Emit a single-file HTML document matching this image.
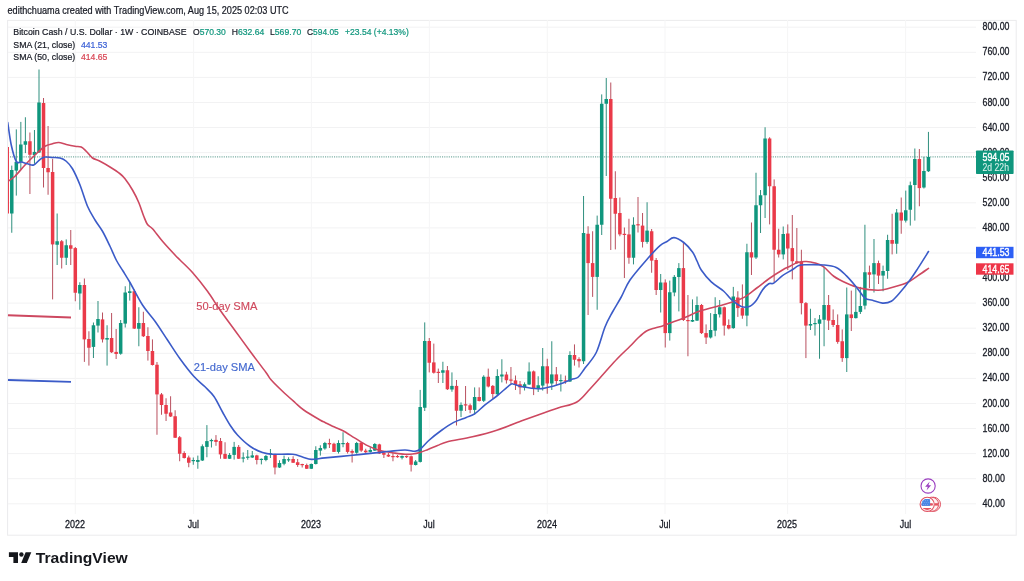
<!DOCTYPE html>
<html><head><meta charset="utf-8"><title>BCHUSD chart</title>
<style>
html,body{margin:0;padding:0;background:#fff;}
body{width:1024px;height:581px;overflow:hidden;position:relative;font-family:"Liberation Sans",sans-serif;}
svg{position:absolute;left:0;top:0;display:block}
text{font-family:"Liberation Sans",sans-serif;}
</style></head><body>
<svg width="1024" height="581" viewBox="0 0 1024 581">
<defs><clipPath id="pane"><rect x="7.9" y="20" width="968" height="495"/></clipPath></defs>
<rect x="0" y="0" width="1024" height="581" fill="#ffffff"/>

<rect x="7.6" y="20.4" width="1008.6" height="514.8" fill="none" stroke="#ebebed" stroke-width="1"/>
<g stroke="#f2f2f3" stroke-width="1">
<line x1="8" y1="27.2" x2="976" y2="27.2"/>
<line x1="8" y1="52.3" x2="976" y2="52.3"/>
<line x1="8" y1="77.4" x2="976" y2="77.4"/>
<line x1="8" y1="102.5" x2="976" y2="102.5"/>
<line x1="8" y1="127.5" x2="976" y2="127.5"/>
<line x1="8" y1="152.6" x2="976" y2="152.6"/>
<line x1="8" y1="177.7" x2="976" y2="177.7"/>
<line x1="8" y1="202.8" x2="976" y2="202.8"/>
<line x1="8" y1="227.9" x2="976" y2="227.9"/>
<line x1="8" y1="253.0" x2="976" y2="253.0"/>
<line x1="8" y1="278.0" x2="976" y2="278.0"/>
<line x1="8" y1="303.1" x2="976" y2="303.1"/>
<line x1="8" y1="328.2" x2="976" y2="328.2"/>
<line x1="8" y1="353.3" x2="976" y2="353.3"/>
<line x1="8" y1="378.4" x2="976" y2="378.4"/>
<line x1="8" y1="403.5" x2="976" y2="403.5"/>
<line x1="8" y1="428.5" x2="976" y2="428.5"/>
<line x1="8" y1="453.6" x2="976" y2="453.6"/>
<line x1="8" y1="478.7" x2="976" y2="478.7"/>
<line x1="8" y1="503.8" x2="976" y2="503.8"/>
</g><g stroke="#f5f5f6" stroke-width="1">
<line x1="75.3" y1="20" x2="75.3" y2="514"/>
<line x1="193.6" y1="20" x2="193.6" y2="514"/>
<line x1="311.4" y1="20" x2="311.4" y2="514"/>
<line x1="429.4" y1="20" x2="429.4" y2="514"/>
<line x1="547.3" y1="20" x2="547.3" y2="514"/>
<line x1="665.0" y1="20" x2="665.0" y2="514"/>
<line x1="787.6" y1="20" x2="787.6" y2="514"/>
<line x1="905.6" y1="20" x2="905.6" y2="514"/>
</g>
<line x1="10" y1="156.9" x2="976" y2="156.9" stroke="#5f9e92" stroke-opacity="0.85" stroke-width="1.2" stroke-dasharray="1.1 1.15"/>
<line x1="8" y1="315.3" x2="71" y2="317.5" stroke="#cd4860" stroke-width="1.9"/>
<line x1="8" y1="380" x2="71" y2="381.9" stroke="#3b5bc8" stroke-width="1.9"/>
<g clip-path="url(#pane)">
<line x1="7.23" y1="146.90" x2="7.23" y2="213.50" stroke="#b9505f" stroke-width="1"/>
<rect x="5.48" y="147.00" width="3.50" height="66.50" fill="#ea3a49"/>
<line x1="11.77" y1="165.60" x2="11.77" y2="232.75" stroke="#2f8f7e" stroke-width="1"/>
<rect x="10.02" y="170.00" width="3.50" height="43.50" fill="#0f967d"/>
<line x1="16.31" y1="129.40" x2="16.31" y2="195.60" stroke="#2f8f7e" stroke-width="1"/>
<rect x="14.56" y="161.90" width="3.50" height="8.70" fill="#0f967d"/>
<line x1="20.84" y1="121.90" x2="20.84" y2="169.00" stroke="#2f8f7e" stroke-width="1"/>
<rect x="19.09" y="144.50" width="3.50" height="17.40" fill="#0f967d"/>
<line x1="25.38" y1="117.25" x2="25.38" y2="153.10" stroke="#2f8f7e" stroke-width="1"/>
<rect x="23.63" y="141.25" width="3.50" height="3.50" fill="#0f967d"/>
<line x1="29.92" y1="132.50" x2="29.92" y2="194.00" stroke="#b9505f" stroke-width="1"/>
<rect x="28.17" y="141.25" width="3.50" height="13.50" fill="#ea3a49"/>
<line x1="34.46" y1="130.00" x2="34.46" y2="163.75" stroke="#2f8f7e" stroke-width="1"/>
<rect x="32.71" y="151.90" width="3.50" height="3.10" fill="#0f967d"/>
<line x1="39.00" y1="69.50" x2="39.00" y2="153.00" stroke="#2f8f7e" stroke-width="1"/>
<rect x="37.25" y="102.50" width="3.50" height="50.00" fill="#0f967d"/>
<line x1="43.53" y1="98.00" x2="43.53" y2="187.50" stroke="#b9505f" stroke-width="1"/>
<rect x="41.78" y="103.00" width="3.50" height="65.00" fill="#ea3a49"/>
<line x1="48.07" y1="126.00" x2="48.07" y2="194.75" stroke="#b9505f" stroke-width="1"/>
<rect x="46.32" y="168.00" width="3.50" height="4.25" fill="#ea3a49"/>
<line x1="52.61" y1="158.75" x2="52.61" y2="299.40" stroke="#b9505f" stroke-width="1"/>
<rect x="50.86" y="172.00" width="3.50" height="72.40" fill="#ea3a49"/>
<line x1="57.15" y1="213.50" x2="57.15" y2="265.00" stroke="#2f8f7e" stroke-width="1"/>
<rect x="55.40" y="241.25" width="3.50" height="3.50" fill="#0f967d"/>
<line x1="61.69" y1="240.00" x2="61.69" y2="268.50" stroke="#b9505f" stroke-width="1"/>
<rect x="59.94" y="241.25" width="3.50" height="16.50" fill="#ea3a49"/>
<line x1="66.22" y1="239.40" x2="66.22" y2="265.00" stroke="#2f8f7e" stroke-width="1"/>
<rect x="64.47" y="245.25" width="3.50" height="12.50" fill="#0f967d"/>
<line x1="70.76" y1="230.00" x2="70.76" y2="265.00" stroke="#b9505f" stroke-width="1"/>
<rect x="69.01" y="245.25" width="3.50" height="3.50" fill="#ea3a49"/>
<line x1="75.30" y1="247.00" x2="75.30" y2="301.25" stroke="#b9505f" stroke-width="1"/>
<rect x="73.55" y="248.10" width="3.50" height="44.65" fill="#ea3a49"/>
<line x1="79.84" y1="282.25" x2="79.84" y2="309.75" stroke="#2f8f7e" stroke-width="1"/>
<rect x="78.09" y="285.00" width="3.50" height="8.50" fill="#0f967d"/>
<line x1="84.38" y1="278.50" x2="84.38" y2="361.90" stroke="#b9505f" stroke-width="1"/>
<rect x="82.63" y="285.00" width="3.50" height="54.40" fill="#ea3a49"/>
<line x1="88.91" y1="331.25" x2="88.91" y2="365.60" stroke="#b9505f" stroke-width="1"/>
<rect x="87.16" y="339.00" width="3.50" height="8.75" fill="#ea3a49"/>
<line x1="93.45" y1="322.50" x2="93.45" y2="358.00" stroke="#2f8f7e" stroke-width="1"/>
<rect x="91.70" y="325.25" width="3.50" height="21.65" fill="#0f967d"/>
<line x1="97.99" y1="301.00" x2="97.99" y2="332.50" stroke="#2f8f7e" stroke-width="1"/>
<rect x="96.24" y="319.00" width="3.50" height="6.60" fill="#0f967d"/>
<line x1="102.53" y1="312.50" x2="102.53" y2="342.50" stroke="#b9505f" stroke-width="1"/>
<rect x="100.78" y="319.40" width="3.50" height="20.00" fill="#ea3a49"/>
<line x1="107.07" y1="325.25" x2="107.07" y2="365.60" stroke="#2f8f7e" stroke-width="1"/>
<rect x="105.32" y="338.00" width="3.50" height="1.60" fill="#0f967d"/>
<line x1="111.60" y1="313.00" x2="111.60" y2="353.00" stroke="#b9505f" stroke-width="1"/>
<rect x="109.85" y="338.00" width="3.50" height="14.25" fill="#ea3a49"/>
<line x1="116.14" y1="329.00" x2="116.14" y2="359.00" stroke="#b9505f" stroke-width="1"/>
<rect x="114.39" y="351.90" width="3.50" height="2.10" fill="#ea3a49"/>
<line x1="120.68" y1="320.00" x2="120.68" y2="354.75" stroke="#2f8f7e" stroke-width="1"/>
<rect x="118.93" y="323.00" width="3.50" height="30.75" fill="#0f967d"/>
<line x1="125.22" y1="286.25" x2="125.22" y2="327.50" stroke="#2f8f7e" stroke-width="1"/>
<rect x="123.47" y="292.50" width="3.50" height="31.10" fill="#0f967d"/>
<line x1="129.76" y1="282.00" x2="129.76" y2="300.60" stroke="#2f8f7e" stroke-width="1"/>
<rect x="128.01" y="291.25" width="3.50" height="1.75" fill="#0f967d"/>
<line x1="134.29" y1="289.40" x2="134.29" y2="329.00" stroke="#b9505f" stroke-width="1"/>
<rect x="132.54" y="291.25" width="3.50" height="37.35" fill="#ea3a49"/>
<line x1="138.83" y1="307.25" x2="138.83" y2="346.25" stroke="#2f8f7e" stroke-width="1"/>
<rect x="137.08" y="323.00" width="3.50" height="5.75" fill="#0f967d"/>
<line x1="143.37" y1="311.75" x2="143.37" y2="337.00" stroke="#b9505f" stroke-width="1"/>
<rect x="141.62" y="323.00" width="3.50" height="13.25" fill="#ea3a49"/>
<line x1="147.91" y1="327.25" x2="147.91" y2="360.60" stroke="#b9505f" stroke-width="1"/>
<rect x="146.16" y="336.00" width="3.50" height="15.00" fill="#ea3a49"/>
<line x1="152.45" y1="339.40" x2="152.45" y2="365.50" stroke="#b9505f" stroke-width="1"/>
<rect x="150.70" y="351.00" width="3.50" height="14.00" fill="#ea3a49"/>
<line x1="156.98" y1="362.00" x2="156.98" y2="434.75" stroke="#b9505f" stroke-width="1"/>
<rect x="155.23" y="364.75" width="3.50" height="29.65" fill="#ea3a49"/>
<line x1="161.52" y1="393.00" x2="161.52" y2="414.75" stroke="#b9505f" stroke-width="1"/>
<rect x="159.77" y="394.40" width="3.50" height="10.60" fill="#ea3a49"/>
<line x1="166.06" y1="398.25" x2="166.06" y2="421.00" stroke="#b9505f" stroke-width="1"/>
<rect x="164.31" y="405.00" width="3.50" height="8.75" fill="#ea3a49"/>
<line x1="170.60" y1="396.25" x2="170.60" y2="417.00" stroke="#b9505f" stroke-width="1"/>
<rect x="168.85" y="412.50" width="3.50" height="4.00" fill="#ea3a49"/>
<line x1="175.14" y1="410.25" x2="175.14" y2="438.00" stroke="#b9505f" stroke-width="1"/>
<rect x="173.39" y="416.25" width="3.50" height="21.50" fill="#ea3a49"/>
<line x1="179.67" y1="436.00" x2="179.67" y2="461.25" stroke="#b9505f" stroke-width="1"/>
<rect x="177.92" y="437.25" width="3.50" height="16.50" fill="#ea3a49"/>
<line x1="184.21" y1="451.25" x2="184.21" y2="458.50" stroke="#b9505f" stroke-width="1"/>
<rect x="182.46" y="453.00" width="3.50" height="5.00" fill="#ea3a49"/>
<line x1="188.75" y1="455.60" x2="188.75" y2="467.25" stroke="#b9505f" stroke-width="1"/>
<rect x="187.00" y="457.50" width="3.50" height="5.25" fill="#ea3a49"/>
<line x1="193.29" y1="457.50" x2="193.29" y2="464.75" stroke="#2f8f7e" stroke-width="1"/>
<rect x="191.54" y="460.00" width="3.50" height="1.20" fill="#0f967d"/>
<line x1="197.83" y1="455.60" x2="197.83" y2="468.75" stroke="#2f8f7e" stroke-width="1"/>
<rect x="196.08" y="460.00" width="3.50" height="1.90" fill="#0f967d"/>
<line x1="202.36" y1="444.40" x2="202.36" y2="461.00" stroke="#2f8f7e" stroke-width="1"/>
<rect x="200.61" y="446.25" width="3.50" height="14.25" fill="#0f967d"/>
<line x1="206.90" y1="425.10" x2="206.90" y2="457.25" stroke="#2f8f7e" stroke-width="1"/>
<rect x="205.15" y="441.10" width="3.50" height="5.80" fill="#0f967d"/>
<line x1="211.44" y1="438.75" x2="211.44" y2="447.50" stroke="#2f8f7e" stroke-width="1"/>
<rect x="209.69" y="440.00" width="3.50" height="1.20" fill="#0f967d"/>
<line x1="215.98" y1="435.10" x2="215.98" y2="445.80" stroke="#b9505f" stroke-width="1"/>
<rect x="214.23" y="439.90" width="3.50" height="2.00" fill="#ea3a49"/>
<line x1="220.52" y1="438.00" x2="220.52" y2="458.75" stroke="#b9505f" stroke-width="1"/>
<rect x="218.77" y="441.00" width="3.50" height="13.40" fill="#ea3a49"/>
<line x1="225.05" y1="442.25" x2="225.05" y2="459.00" stroke="#b9505f" stroke-width="1"/>
<rect x="223.30" y="453.90" width="3.50" height="4.85" fill="#ea3a49"/>
<line x1="229.59" y1="453.00" x2="229.59" y2="459.00" stroke="#2f8f7e" stroke-width="1"/>
<rect x="227.84" y="454.90" width="3.50" height="3.85" fill="#0f967d"/>
<line x1="234.13" y1="441.90" x2="234.13" y2="459.60" stroke="#2f8f7e" stroke-width="1"/>
<rect x="232.38" y="446.90" width="3.50" height="8.00" fill="#0f967d"/>
<line x1="238.67" y1="445.00" x2="238.67" y2="459.00" stroke="#b9505f" stroke-width="1"/>
<rect x="236.92" y="446.90" width="3.50" height="11.85" fill="#ea3a49"/>
<line x1="243.21" y1="452.40" x2="243.21" y2="462.40" stroke="#2f8f7e" stroke-width="1"/>
<rect x="241.46" y="457.40" width="3.50" height="1.20" fill="#0f967d"/>
<line x1="247.74" y1="450.00" x2="247.74" y2="459.75" stroke="#2f8f7e" stroke-width="1"/>
<rect x="245.99" y="456.60" width="3.50" height="1.20" fill="#0f967d"/>
<line x1="252.28" y1="451.00" x2="252.28" y2="458.00" stroke="#2f8f7e" stroke-width="1"/>
<rect x="250.53" y="455.40" width="3.50" height="2.10" fill="#0f967d"/>
<line x1="256.82" y1="454.75" x2="256.82" y2="464.40" stroke="#b9505f" stroke-width="1"/>
<rect x="255.07" y="455.40" width="3.50" height="4.60" fill="#ea3a49"/>
<line x1="261.36" y1="458.50" x2="261.36" y2="464.40" stroke="#2f8f7e" stroke-width="1"/>
<rect x="259.61" y="458.80" width="3.50" height="1.20" fill="#0f967d"/>
<line x1="265.90" y1="455.00" x2="265.90" y2="461.25" stroke="#2f8f7e" stroke-width="1"/>
<rect x="264.15" y="456.00" width="3.50" height="4.00" fill="#0f967d"/>
<line x1="270.43" y1="449.00" x2="270.43" y2="458.00" stroke="#2f8f7e" stroke-width="1"/>
<rect x="268.68" y="453.20" width="3.50" height="1.20" fill="#0f967d"/>
<line x1="274.97" y1="453.75" x2="274.97" y2="474.40" stroke="#b9505f" stroke-width="1"/>
<rect x="273.22" y="455.00" width="3.50" height="12.50" fill="#ea3a49"/>
<line x1="279.51" y1="460.25" x2="279.51" y2="468.00" stroke="#2f8f7e" stroke-width="1"/>
<rect x="277.76" y="463.00" width="3.50" height="4.50" fill="#0f967d"/>
<line x1="284.05" y1="455.60" x2="284.05" y2="465.25" stroke="#2f8f7e" stroke-width="1"/>
<rect x="282.30" y="459.00" width="3.50" height="4.75" fill="#0f967d"/>
<line x1="288.59" y1="457.25" x2="288.59" y2="461.90" stroke="#2f8f7e" stroke-width="1"/>
<rect x="286.84" y="459.20" width="3.50" height="1.20" fill="#0f967d"/>
<line x1="293.12" y1="456.25" x2="293.12" y2="463.00" stroke="#b9505f" stroke-width="1"/>
<rect x="291.37" y="459.00" width="3.50" height="3.75" fill="#ea3a49"/>
<line x1="297.66" y1="459.00" x2="297.66" y2="466.90" stroke="#b9505f" stroke-width="1"/>
<rect x="295.91" y="462.25" width="3.50" height="2.75" fill="#ea3a49"/>
<line x1="302.20" y1="463.75" x2="302.20" y2="467.50" stroke="#b9505f" stroke-width="1"/>
<rect x="300.45" y="464.00" width="3.50" height="1.20" fill="#ea3a49"/>
<line x1="306.74" y1="463.60" x2="306.74" y2="469.00" stroke="#b9505f" stroke-width="1"/>
<rect x="304.99" y="465.00" width="3.50" height="3.75" fill="#ea3a49"/>
<line x1="311.28" y1="463.50" x2="311.28" y2="469.00" stroke="#2f8f7e" stroke-width="1"/>
<rect x="309.53" y="464.00" width="3.50" height="4.75" fill="#0f967d"/>
<line x1="315.81" y1="446.25" x2="315.81" y2="464.50" stroke="#2f8f7e" stroke-width="1"/>
<rect x="314.06" y="450.00" width="3.50" height="14.00" fill="#0f967d"/>
<line x1="320.35" y1="445.25" x2="320.35" y2="455.60" stroke="#2f8f7e" stroke-width="1"/>
<rect x="318.60" y="448.00" width="3.50" height="2.60" fill="#0f967d"/>
<line x1="324.89" y1="441.90" x2="324.89" y2="449.75" stroke="#2f8f7e" stroke-width="1"/>
<rect x="323.14" y="443.00" width="3.50" height="5.50" fill="#0f967d"/>
<line x1="329.43" y1="438.75" x2="329.43" y2="448.00" stroke="#b9505f" stroke-width="1"/>
<rect x="327.68" y="443.00" width="3.50" height="1.40" fill="#ea3a49"/>
<line x1="333.97" y1="442.75" x2="333.97" y2="452.00" stroke="#b9505f" stroke-width="1"/>
<rect x="332.22" y="443.75" width="3.50" height="8.15" fill="#ea3a49"/>
<line x1="338.50" y1="440.25" x2="338.50" y2="453.50" stroke="#2f8f7e" stroke-width="1"/>
<rect x="336.75" y="443.00" width="3.50" height="8.90" fill="#0f967d"/>
<line x1="343.04" y1="432.25" x2="343.04" y2="447.25" stroke="#2f8f7e" stroke-width="1"/>
<rect x="341.29" y="443.00" width="3.50" height="1.20" fill="#0f967d"/>
<line x1="347.58" y1="441.90" x2="347.58" y2="453.50" stroke="#b9505f" stroke-width="1"/>
<rect x="345.83" y="443.00" width="3.50" height="8.90" fill="#ea3a49"/>
<line x1="352.12" y1="449.40" x2="352.12" y2="462.50" stroke="#b9505f" stroke-width="1"/>
<rect x="350.37" y="451.00" width="3.50" height="1.75" fill="#ea3a49"/>
<line x1="356.66" y1="441.90" x2="356.66" y2="453.75" stroke="#2f8f7e" stroke-width="1"/>
<rect x="354.91" y="443.00" width="3.50" height="9.75" fill="#0f967d"/>
<line x1="361.19" y1="441.90" x2="361.19" y2="451.90" stroke="#b9505f" stroke-width="1"/>
<rect x="359.44" y="442.75" width="3.50" height="7.85" fill="#ea3a49"/>
<line x1="365.73" y1="448.75" x2="365.73" y2="454.00" stroke="#b9505f" stroke-width="1"/>
<rect x="363.98" y="450.60" width="3.50" height="1.65" fill="#ea3a49"/>
<line x1="370.27" y1="447.25" x2="370.27" y2="452.50" stroke="#2f8f7e" stroke-width="1"/>
<rect x="368.52" y="450.00" width="3.50" height="1.90" fill="#0f967d"/>
<line x1="374.81" y1="443.10" x2="374.81" y2="451.00" stroke="#2f8f7e" stroke-width="1"/>
<rect x="373.06" y="444.00" width="3.50" height="6.60" fill="#0f967d"/>
<line x1="379.35" y1="443.75" x2="379.35" y2="454.00" stroke="#b9505f" stroke-width="1"/>
<rect x="377.60" y="444.40" width="3.50" height="9.10" fill="#ea3a49"/>
<line x1="383.88" y1="452.00" x2="383.88" y2="458.00" stroke="#b9505f" stroke-width="1"/>
<rect x="382.13" y="452.75" width="3.50" height="2.00" fill="#ea3a49"/>
<line x1="388.42" y1="453.00" x2="388.42" y2="457.00" stroke="#b9505f" stroke-width="1"/>
<rect x="386.67" y="454.75" width="3.50" height="1.75" fill="#ea3a49"/>
<line x1="392.96" y1="452.50" x2="392.96" y2="461.25" stroke="#b9505f" stroke-width="1"/>
<rect x="391.21" y="456.00" width="3.50" height="1.20" fill="#ea3a49"/>
<line x1="397.50" y1="455.00" x2="397.50" y2="457.75" stroke="#b9505f" stroke-width="1"/>
<rect x="395.75" y="456.00" width="3.50" height="1.20" fill="#ea3a49"/>
<line x1="402.04" y1="455.50" x2="402.04" y2="459.40" stroke="#2f8f7e" stroke-width="1"/>
<rect x="400.29" y="456.00" width="3.50" height="1.75" fill="#0f967d"/>
<line x1="406.57" y1="455.60" x2="406.57" y2="458.00" stroke="#b9505f" stroke-width="1"/>
<rect x="404.82" y="456.00" width="3.50" height="1.20" fill="#ea3a49"/>
<line x1="411.11" y1="455.50" x2="411.11" y2="471.50" stroke="#b9505f" stroke-width="1"/>
<rect x="409.36" y="456.25" width="3.50" height="8.50" fill="#ea3a49"/>
<line x1="415.65" y1="460.00" x2="415.65" y2="465.50" stroke="#2f8f7e" stroke-width="1"/>
<rect x="413.90" y="461.50" width="3.50" height="3.50" fill="#0f967d"/>
<line x1="420.19" y1="389.90" x2="420.19" y2="462.50" stroke="#2f8f7e" stroke-width="1"/>
<rect x="418.44" y="407.00" width="3.50" height="54.90" fill="#0f967d"/>
<line x1="424.73" y1="322.40" x2="424.73" y2="411.00" stroke="#2f8f7e" stroke-width="1"/>
<rect x="422.98" y="341.00" width="3.50" height="66.75" fill="#0f967d"/>
<line x1="429.26" y1="338.00" x2="429.26" y2="372.40" stroke="#b9505f" stroke-width="1"/>
<rect x="427.51" y="341.00" width="3.50" height="21.75" fill="#ea3a49"/>
<line x1="433.80" y1="343.60" x2="433.80" y2="373.60" stroke="#b9505f" stroke-width="1"/>
<rect x="432.05" y="362.40" width="3.50" height="10.35" fill="#ea3a49"/>
<line x1="438.34" y1="368.60" x2="438.34" y2="383.00" stroke="#b9505f" stroke-width="1"/>
<rect x="436.59" y="371.80" width="3.50" height="1.20" fill="#ea3a49"/>
<line x1="442.88" y1="361.75" x2="442.88" y2="383.00" stroke="#2f8f7e" stroke-width="1"/>
<rect x="441.13" y="370.25" width="3.50" height="2.50" fill="#0f967d"/>
<line x1="447.42" y1="366.00" x2="447.42" y2="390.00" stroke="#b9505f" stroke-width="1"/>
<rect x="445.67" y="370.25" width="3.50" height="19.00" fill="#ea3a49"/>
<line x1="451.95" y1="372.40" x2="451.95" y2="391.75" stroke="#2f8f7e" stroke-width="1"/>
<rect x="450.20" y="385.90" width="3.50" height="3.60" fill="#0f967d"/>
<line x1="456.49" y1="380.00" x2="456.49" y2="425.50" stroke="#b9505f" stroke-width="1"/>
<rect x="454.74" y="385.90" width="3.50" height="24.85" fill="#ea3a49"/>
<line x1="461.03" y1="402.40" x2="461.03" y2="417.00" stroke="#2f8f7e" stroke-width="1"/>
<rect x="459.28" y="404.90" width="3.50" height="5.85" fill="#0f967d"/>
<line x1="465.57" y1="386.00" x2="465.57" y2="411.00" stroke="#b9505f" stroke-width="1"/>
<rect x="463.82" y="404.30" width="3.50" height="1.20" fill="#ea3a49"/>
<line x1="470.11" y1="403.60" x2="470.11" y2="413.25" stroke="#b9505f" stroke-width="1"/>
<rect x="468.36" y="405.25" width="3.50" height="4.65" fill="#ea3a49"/>
<line x1="474.64" y1="387.40" x2="474.64" y2="414.50" stroke="#2f8f7e" stroke-width="1"/>
<rect x="472.89" y="397.00" width="3.50" height="12.90" fill="#0f967d"/>
<line x1="479.18" y1="387.40" x2="479.18" y2="401.50" stroke="#b9505f" stroke-width="1"/>
<rect x="477.43" y="397.00" width="3.50" height="4.00" fill="#ea3a49"/>
<line x1="483.72" y1="375.25" x2="483.72" y2="402.00" stroke="#2f8f7e" stroke-width="1"/>
<rect x="481.97" y="376.75" width="3.50" height="24.00" fill="#0f967d"/>
<line x1="488.26" y1="368.60" x2="488.26" y2="387.40" stroke="#b9505f" stroke-width="1"/>
<rect x="486.51" y="376.75" width="3.50" height="9.75" fill="#ea3a49"/>
<line x1="492.80" y1="385.00" x2="492.80" y2="398.60" stroke="#b9505f" stroke-width="1"/>
<rect x="491.05" y="385.90" width="3.50" height="8.10" fill="#ea3a49"/>
<line x1="497.33" y1="369.25" x2="497.33" y2="395.00" stroke="#2f8f7e" stroke-width="1"/>
<rect x="495.58" y="376.00" width="3.50" height="18.25" fill="#0f967d"/>
<line x1="501.87" y1="359.25" x2="501.87" y2="382.40" stroke="#2f8f7e" stroke-width="1"/>
<rect x="500.12" y="374.50" width="3.50" height="2.00" fill="#0f967d"/>
<line x1="506.41" y1="371.75" x2="506.41" y2="383.60" stroke="#b9505f" stroke-width="1"/>
<rect x="504.66" y="374.50" width="3.50" height="5.75" fill="#ea3a49"/>
<line x1="510.95" y1="367.00" x2="510.95" y2="384.25" stroke="#b9505f" stroke-width="1"/>
<rect x="509.20" y="379.50" width="3.50" height="1.20" fill="#ea3a49"/>
<line x1="515.49" y1="375.50" x2="515.49" y2="390.00" stroke="#b9505f" stroke-width="1"/>
<rect x="513.74" y="380.40" width="3.50" height="4.60" fill="#ea3a49"/>
<line x1="520.02" y1="381.00" x2="520.02" y2="394.25" stroke="#b9505f" stroke-width="1"/>
<rect x="518.27" y="384.25" width="3.50" height="3.15" fill="#ea3a49"/>
<line x1="524.56" y1="382.40" x2="524.56" y2="390.50" stroke="#2f8f7e" stroke-width="1"/>
<rect x="522.81" y="384.25" width="3.50" height="3.15" fill="#0f967d"/>
<line x1="529.10" y1="362.40" x2="529.10" y2="385.00" stroke="#2f8f7e" stroke-width="1"/>
<rect x="527.35" y="371.50" width="3.50" height="13.00" fill="#0f967d"/>
<line x1="533.64" y1="370.50" x2="533.64" y2="395.10" stroke="#b9505f" stroke-width="1"/>
<rect x="531.89" y="371.40" width="3.50" height="16.60" fill="#ea3a49"/>
<line x1="538.18" y1="376.25" x2="538.18" y2="392.00" stroke="#2f8f7e" stroke-width="1"/>
<rect x="536.43" y="385.25" width="3.50" height="3.45" fill="#0f967d"/>
<line x1="542.71" y1="348.00" x2="542.71" y2="390.60" stroke="#2f8f7e" stroke-width="1"/>
<rect x="540.96" y="366.25" width="3.50" height="19.35" fill="#0f967d"/>
<line x1="547.25" y1="358.75" x2="547.25" y2="393.75" stroke="#b9505f" stroke-width="1"/>
<rect x="545.50" y="366.25" width="3.50" height="17.25" fill="#ea3a49"/>
<line x1="551.79" y1="341.25" x2="551.79" y2="390.00" stroke="#2f8f7e" stroke-width="1"/>
<rect x="550.04" y="374.40" width="3.50" height="9.10" fill="#0f967d"/>
<line x1="556.33" y1="367.00" x2="556.33" y2="385.60" stroke="#b9505f" stroke-width="1"/>
<rect x="554.58" y="374.40" width="3.50" height="6.60" fill="#ea3a49"/>
<line x1="560.87" y1="374.40" x2="560.87" y2="391.50" stroke="#2f8f7e" stroke-width="1"/>
<rect x="559.12" y="380.00" width="3.50" height="1.20" fill="#0f967d"/>
<line x1="565.40" y1="375.60" x2="565.40" y2="383.75" stroke="#b9505f" stroke-width="1"/>
<rect x="563.65" y="380.40" width="3.50" height="1.20" fill="#ea3a49"/>
<line x1="569.94" y1="351.25" x2="569.94" y2="382.00" stroke="#2f8f7e" stroke-width="1"/>
<rect x="568.19" y="355.00" width="3.50" height="26.50" fill="#0f967d"/>
<line x1="574.48" y1="344.40" x2="574.48" y2="365.60" stroke="#b9505f" stroke-width="1"/>
<rect x="572.73" y="355.00" width="3.50" height="4.75" fill="#ea3a49"/>
<line x1="579.02" y1="357.25" x2="579.02" y2="367.50" stroke="#b9505f" stroke-width="1"/>
<rect x="577.27" y="359.00" width="3.50" height="2.25" fill="#ea3a49"/>
<line x1="583.56" y1="196.00" x2="583.56" y2="364.00" stroke="#2f8f7e" stroke-width="1"/>
<rect x="581.81" y="233.00" width="3.50" height="128.25" fill="#0f967d"/>
<line x1="588.09" y1="226.25" x2="588.09" y2="315.00" stroke="#b9505f" stroke-width="1"/>
<rect x="586.34" y="233.75" width="3.50" height="29.35" fill="#ea3a49"/>
<line x1="592.63" y1="231.25" x2="592.63" y2="296.90" stroke="#b9505f" stroke-width="1"/>
<rect x="590.88" y="263.10" width="3.50" height="13.80" fill="#ea3a49"/>
<line x1="597.17" y1="215.60" x2="597.17" y2="309.75" stroke="#2f8f7e" stroke-width="1"/>
<rect x="595.42" y="224.75" width="3.50" height="52.15" fill="#0f967d"/>
<line x1="601.71" y1="94.40" x2="601.71" y2="235.00" stroke="#2f8f7e" stroke-width="1"/>
<rect x="599.96" y="103.75" width="3.50" height="121.00" fill="#0f967d"/>
<line x1="606.25" y1="78.00" x2="606.25" y2="176.00" stroke="#2f8f7e" stroke-width="1"/>
<rect x="604.50" y="99.00" width="3.50" height="4.75" fill="#0f967d"/>
<line x1="610.78" y1="82.50" x2="610.78" y2="250.00" stroke="#b9505f" stroke-width="1"/>
<rect x="609.03" y="99.00" width="3.50" height="99.75" fill="#ea3a49"/>
<line x1="615.32" y1="171.25" x2="615.32" y2="249.40" stroke="#b9505f" stroke-width="1"/>
<rect x="613.57" y="198.00" width="3.50" height="15.75" fill="#ea3a49"/>
<line x1="619.86" y1="197.50" x2="619.86" y2="236.25" stroke="#b9505f" stroke-width="1"/>
<rect x="618.11" y="213.00" width="3.50" height="21.40" fill="#ea3a49"/>
<line x1="624.40" y1="227.50" x2="624.40" y2="278.00" stroke="#b9505f" stroke-width="1"/>
<rect x="622.65" y="233.80" width="3.50" height="1.20" fill="#ea3a49"/>
<line x1="628.94" y1="218.75" x2="628.94" y2="263.75" stroke="#b9505f" stroke-width="1"/>
<rect x="627.19" y="234.40" width="3.50" height="23.35" fill="#ea3a49"/>
<line x1="633.47" y1="217.25" x2="633.47" y2="264.40" stroke="#2f8f7e" stroke-width="1"/>
<rect x="631.72" y="224.75" width="3.50" height="33.00" fill="#0f967d"/>
<line x1="638.01" y1="197.00" x2="638.01" y2="232.50" stroke="#b9505f" stroke-width="1"/>
<rect x="636.26" y="224.20" width="3.50" height="1.20" fill="#ea3a49"/>
<line x1="642.55" y1="213.00" x2="642.55" y2="247.50" stroke="#b9505f" stroke-width="1"/>
<rect x="640.80" y="225.60" width="3.50" height="16.30" fill="#ea3a49"/>
<line x1="647.09" y1="202.25" x2="647.09" y2="243.75" stroke="#2f8f7e" stroke-width="1"/>
<rect x="645.34" y="230.60" width="3.50" height="11.30" fill="#0f967d"/>
<line x1="651.63" y1="229.00" x2="651.63" y2="272.75" stroke="#b9505f" stroke-width="1"/>
<rect x="649.88" y="231.25" width="3.50" height="29.35" fill="#ea3a49"/>
<line x1="656.16" y1="258.00" x2="656.16" y2="295.00" stroke="#b9505f" stroke-width="1"/>
<rect x="654.41" y="260.00" width="3.50" height="30.00" fill="#ea3a49"/>
<line x1="660.70" y1="274.00" x2="660.70" y2="312.50" stroke="#2f8f7e" stroke-width="1"/>
<rect x="658.95" y="282.50" width="3.50" height="7.50" fill="#0f967d"/>
<line x1="665.24" y1="279.40" x2="665.24" y2="347.50" stroke="#b9505f" stroke-width="1"/>
<rect x="663.49" y="282.50" width="3.50" height="50.60" fill="#ea3a49"/>
<line x1="669.78" y1="280.60" x2="669.78" y2="340.60" stroke="#2f8f7e" stroke-width="1"/>
<rect x="668.03" y="292.25" width="3.50" height="40.85" fill="#0f967d"/>
<line x1="674.32" y1="275.00" x2="674.32" y2="296.25" stroke="#2f8f7e" stroke-width="1"/>
<rect x="672.57" y="276.90" width="3.50" height="15.60" fill="#0f967d"/>
<line x1="678.85" y1="263.10" x2="678.85" y2="311.40" stroke="#2f8f7e" stroke-width="1"/>
<rect x="677.10" y="268.10" width="3.50" height="8.90" fill="#0f967d"/>
<line x1="683.39" y1="242.50" x2="683.39" y2="321.00" stroke="#b9505f" stroke-width="1"/>
<rect x="681.64" y="268.10" width="3.50" height="51.90" fill="#ea3a49"/>
<line x1="687.93" y1="295.00" x2="687.93" y2="356.25" stroke="#b9505f" stroke-width="1"/>
<rect x="686.18" y="320.00" width="3.50" height="1.20" fill="#ea3a49"/>
<line x1="692.47" y1="299.40" x2="692.47" y2="322.00" stroke="#2f8f7e" stroke-width="1"/>
<rect x="690.72" y="320.00" width="3.50" height="1.60" fill="#0f967d"/>
<line x1="697.01" y1="296.50" x2="697.01" y2="321.00" stroke="#2f8f7e" stroke-width="1"/>
<rect x="695.26" y="305.00" width="3.50" height="15.60" fill="#0f967d"/>
<line x1="701.54" y1="304.00" x2="701.54" y2="334.00" stroke="#b9505f" stroke-width="1"/>
<rect x="699.79" y="305.00" width="3.50" height="28.10" fill="#ea3a49"/>
<line x1="706.08" y1="324.40" x2="706.08" y2="344.00" stroke="#b9505f" stroke-width="1"/>
<rect x="704.33" y="333.10" width="3.50" height="4.40" fill="#ea3a49"/>
<line x1="710.62" y1="313.10" x2="710.62" y2="338.50" stroke="#2f8f7e" stroke-width="1"/>
<rect x="708.87" y="330.00" width="3.50" height="7.50" fill="#0f967d"/>
<line x1="715.16" y1="297.25" x2="715.16" y2="336.25" stroke="#2f8f7e" stroke-width="1"/>
<rect x="713.41" y="314.00" width="3.50" height="16.60" fill="#0f967d"/>
<line x1="719.70" y1="300.00" x2="719.70" y2="317.50" stroke="#2f8f7e" stroke-width="1"/>
<rect x="717.95" y="307.25" width="3.50" height="7.15" fill="#0f967d"/>
<line x1="724.23" y1="306.50" x2="724.23" y2="335.60" stroke="#b9505f" stroke-width="1"/>
<rect x="722.48" y="307.25" width="3.50" height="18.35" fill="#ea3a49"/>
<line x1="728.77" y1="319.40" x2="728.77" y2="329.40" stroke="#b9505f" stroke-width="1"/>
<rect x="727.02" y="325.00" width="3.50" height="3.50" fill="#ea3a49"/>
<line x1="733.31" y1="286.90" x2="733.31" y2="328.80" stroke="#2f8f7e" stroke-width="1"/>
<rect x="731.56" y="296.50" width="3.50" height="31.60" fill="#0f967d"/>
<line x1="737.85" y1="291.25" x2="737.85" y2="316.90" stroke="#b9505f" stroke-width="1"/>
<rect x="736.10" y="297.50" width="3.50" height="10.60" fill="#ea3a49"/>
<line x1="742.39" y1="284.40" x2="742.39" y2="318.75" stroke="#b9505f" stroke-width="1"/>
<rect x="740.64" y="308.10" width="3.50" height="7.50" fill="#ea3a49"/>
<line x1="746.92" y1="243.75" x2="746.92" y2="326.25" stroke="#2f8f7e" stroke-width="1"/>
<rect x="745.17" y="252.25" width="3.50" height="63.35" fill="#0f967d"/>
<line x1="751.46" y1="222.50" x2="751.46" y2="275.00" stroke="#b9505f" stroke-width="1"/>
<rect x="749.71" y="252.25" width="3.50" height="5.25" fill="#ea3a49"/>
<line x1="756.00" y1="172.75" x2="756.00" y2="259.00" stroke="#2f8f7e" stroke-width="1"/>
<rect x="754.25" y="205.25" width="3.50" height="52.25" fill="#0f967d"/>
<line x1="760.54" y1="190.00" x2="760.54" y2="233.00" stroke="#2f8f7e" stroke-width="1"/>
<rect x="758.79" y="195.25" width="3.50" height="10.00" fill="#0f967d"/>
<line x1="765.08" y1="127.25" x2="765.08" y2="218.00" stroke="#2f8f7e" stroke-width="1"/>
<rect x="763.33" y="138.50" width="3.50" height="56.75" fill="#0f967d"/>
<line x1="769.61" y1="137.25" x2="769.61" y2="224.40" stroke="#b9505f" stroke-width="1"/>
<rect x="767.86" y="138.50" width="3.50" height="47.75" fill="#ea3a49"/>
<line x1="774.15" y1="179.40" x2="774.15" y2="282.50" stroke="#b9505f" stroke-width="1"/>
<rect x="772.40" y="186.25" width="3.50" height="63.50" fill="#ea3a49"/>
<line x1="778.69" y1="228.75" x2="778.69" y2="257.50" stroke="#b9505f" stroke-width="1"/>
<rect x="776.94" y="249.75" width="3.50" height="4.65" fill="#ea3a49"/>
<line x1="783.23" y1="226.50" x2="783.23" y2="259.40" stroke="#2f8f7e" stroke-width="1"/>
<rect x="781.48" y="234.00" width="3.50" height="20.40" fill="#0f967d"/>
<line x1="787.77" y1="224.40" x2="787.77" y2="270.00" stroke="#b9505f" stroke-width="1"/>
<rect x="786.02" y="233.50" width="3.50" height="15.00" fill="#ea3a49"/>
<line x1="792.30" y1="215.00" x2="792.30" y2="279.40" stroke="#b9505f" stroke-width="1"/>
<rect x="790.55" y="248.10" width="3.50" height="13.15" fill="#ea3a49"/>
<line x1="796.84" y1="228.00" x2="796.84" y2="264.00" stroke="#b9505f" stroke-width="1"/>
<rect x="795.09" y="261.25" width="3.50" height="1.85" fill="#ea3a49"/>
<line x1="801.38" y1="249.75" x2="801.38" y2="314.40" stroke="#b9505f" stroke-width="1"/>
<rect x="799.63" y="261.90" width="3.50" height="41.20" fill="#ea3a49"/>
<line x1="805.92" y1="302.00" x2="805.92" y2="358.10" stroke="#b9505f" stroke-width="1"/>
<rect x="804.17" y="303.10" width="3.50" height="22.50" fill="#ea3a49"/>
<line x1="810.46" y1="308.75" x2="810.46" y2="330.00" stroke="#2f8f7e" stroke-width="1"/>
<rect x="808.71" y="324.00" width="3.50" height="1.60" fill="#0f967d"/>
<line x1="814.99" y1="318.10" x2="814.99" y2="335.60" stroke="#2f8f7e" stroke-width="1"/>
<rect x="813.24" y="323.00" width="3.50" height="1.20" fill="#0f967d"/>
<line x1="819.53" y1="315.00" x2="819.53" y2="358.75" stroke="#2f8f7e" stroke-width="1"/>
<rect x="817.78" y="319.40" width="3.50" height="4.35" fill="#0f967d"/>
<line x1="824.07" y1="266.90" x2="824.07" y2="346.25" stroke="#2f8f7e" stroke-width="1"/>
<rect x="822.32" y="305.00" width="3.50" height="14.75" fill="#0f967d"/>
<line x1="828.61" y1="295.00" x2="828.61" y2="330.00" stroke="#b9505f" stroke-width="1"/>
<rect x="826.86" y="305.00" width="3.50" height="15.60" fill="#ea3a49"/>
<line x1="833.15" y1="309.40" x2="833.15" y2="327.00" stroke="#b9505f" stroke-width="1"/>
<rect x="831.40" y="320.00" width="3.50" height="5.00" fill="#ea3a49"/>
<line x1="837.68" y1="314.40" x2="837.68" y2="343.75" stroke="#b9505f" stroke-width="1"/>
<rect x="835.93" y="325.00" width="3.50" height="16.90" fill="#ea3a49"/>
<line x1="842.22" y1="329.40" x2="842.22" y2="361.90" stroke="#b9505f" stroke-width="1"/>
<rect x="840.47" y="341.25" width="3.50" height="16.85" fill="#ea3a49"/>
<line x1="846.76" y1="287.50" x2="846.76" y2="372.00" stroke="#2f8f7e" stroke-width="1"/>
<rect x="845.01" y="314.40" width="3.50" height="43.70" fill="#0f967d"/>
<line x1="851.30" y1="290.60" x2="851.30" y2="331.00" stroke="#b9505f" stroke-width="1"/>
<rect x="849.55" y="314.40" width="3.50" height="3.70" fill="#ea3a49"/>
<line x1="855.84" y1="288.00" x2="855.84" y2="318.50" stroke="#2f8f7e" stroke-width="1"/>
<rect x="854.09" y="311.90" width="3.50" height="6.20" fill="#0f967d"/>
<line x1="860.37" y1="286.90" x2="860.37" y2="314.00" stroke="#2f8f7e" stroke-width="1"/>
<rect x="858.62" y="306.00" width="3.50" height="5.90" fill="#0f967d"/>
<line x1="864.91" y1="224.75" x2="864.91" y2="309.40" stroke="#2f8f7e" stroke-width="1"/>
<rect x="863.16" y="272.25" width="3.50" height="33.35" fill="#0f967d"/>
<line x1="869.45" y1="265.60" x2="869.45" y2="288.10" stroke="#b9505f" stroke-width="1"/>
<rect x="867.70" y="272.25" width="3.50" height="2.50" fill="#ea3a49"/>
<line x1="873.99" y1="239.00" x2="873.99" y2="292.50" stroke="#2f8f7e" stroke-width="1"/>
<rect x="872.24" y="263.10" width="3.50" height="11.30" fill="#0f967d"/>
<line x1="878.53" y1="260.60" x2="878.53" y2="284.00" stroke="#b9505f" stroke-width="1"/>
<rect x="876.78" y="263.10" width="3.50" height="12.50" fill="#ea3a49"/>
<line x1="883.06" y1="265.60" x2="883.06" y2="291.25" stroke="#2f8f7e" stroke-width="1"/>
<rect x="881.31" y="271.00" width="3.50" height="4.60" fill="#0f967d"/>
<line x1="887.60" y1="234.75" x2="887.60" y2="278.75" stroke="#2f8f7e" stroke-width="1"/>
<rect x="885.85" y="240.00" width="3.50" height="31.00" fill="#0f967d"/>
<line x1="892.14" y1="213.75" x2="892.14" y2="254.40" stroke="#b9505f" stroke-width="1"/>
<rect x="890.39" y="240.00" width="3.50" height="3.75" fill="#ea3a49"/>
<line x1="896.68" y1="209.00" x2="896.68" y2="253.75" stroke="#2f8f7e" stroke-width="1"/>
<rect x="894.93" y="212.50" width="3.50" height="31.25" fill="#0f967d"/>
<line x1="901.22" y1="197.50" x2="901.22" y2="233.75" stroke="#b9505f" stroke-width="1"/>
<rect x="899.47" y="212.50" width="3.50" height="8.10" fill="#ea3a49"/>
<line x1="905.75" y1="190.60" x2="905.75" y2="222.50" stroke="#2f8f7e" stroke-width="1"/>
<rect x="904.00" y="210.25" width="3.50" height="10.35" fill="#0f967d"/>
<line x1="910.29" y1="181.60" x2="910.29" y2="225.60" stroke="#2f8f7e" stroke-width="1"/>
<rect x="908.54" y="185.25" width="3.50" height="24.50" fill="#0f967d"/>
<line x1="914.83" y1="148.50" x2="914.83" y2="220.60" stroke="#2f8f7e" stroke-width="1"/>
<rect x="913.08" y="159.00" width="3.50" height="26.00" fill="#0f967d"/>
<line x1="919.37" y1="149.00" x2="919.37" y2="206.25" stroke="#b9505f" stroke-width="1"/>
<rect x="917.62" y="159.00" width="3.50" height="29.10" fill="#ea3a49"/>
<line x1="923.91" y1="156.90" x2="923.91" y2="188.50" stroke="#2f8f7e" stroke-width="1"/>
<rect x="922.16" y="171.00" width="3.50" height="16.50" fill="#0f967d"/>
<line x1="928.44" y1="131.90" x2="928.44" y2="172.00" stroke="#2f8f7e" stroke-width="1"/>
<rect x="926.69" y="156.90" width="3.50" height="14.35" fill="#0f967d"/>
<path d="M7.75,181.50 C8.96,180.62 12.12,179.00 15.00,176.25 C17.88,173.50 21.67,168.54 25.00,165.00 C28.33,161.46 31.67,158.12 35.00,155.00 C38.33,151.88 42.08,148.12 45.00,146.25 C47.92,144.38 50.21,144.38 52.50,143.75 C54.79,143.12 56.46,142.38 58.75,142.50 C61.04,142.62 63.54,143.88 66.25,144.50 C68.96,145.12 72.50,145.83 75.00,146.25 C77.50,146.67 79.38,146.17 81.25,147.00 C83.12,147.83 84.38,149.42 86.25,151.25 C88.12,153.08 90.21,156.33 92.50,158.00 C94.79,159.67 97.08,159.75 100.00,161.25 C102.92,162.75 106.67,164.92 110.00,167.00 C113.33,169.08 117.50,171.79 120.00,173.75 C122.50,175.71 122.92,176.04 125.00,178.75 C127.08,181.46 130.21,186.04 132.50,190.00 C134.79,193.96 136.88,198.12 138.75,202.50 C140.62,206.88 142.29,212.58 143.75,216.25 C145.21,219.92 146.04,222.42 147.50,224.50 C148.96,226.58 150.00,225.96 152.50,228.75 C155.00,231.54 158.75,236.88 162.50,241.25 C166.25,245.62 172.08,251.88 175.00,255.00 C177.92,258.12 177.08,257.08 180.00,260.00 C182.92,262.92 187.92,267.29 192.50,272.50 C197.08,277.71 202.92,285.00 207.50,291.25 C212.08,297.50 215.33,303.33 220.00,310.00 C224.67,316.67 230.33,324.17 235.50,331.25 C240.67,338.33 245.92,345.62 251.00,352.50 C256.08,359.38 262.62,367.92 266.00,372.50 C269.38,377.08 268.50,376.88 271.25,380.00 C274.00,383.12 278.54,387.50 282.50,391.25 C286.46,395.00 291.46,399.38 295.00,402.50 C298.54,405.62 299.58,407.08 303.75,410.00 C307.92,412.92 316.46,417.92 320.00,420.00 C323.54,422.08 322.92,421.46 325.00,422.50 C327.08,423.54 329.58,424.92 332.50,426.25 C335.42,427.58 338.75,428.52 342.50,430.50 C346.25,432.48 350.83,435.58 355.00,438.10 C359.17,440.62 363.33,443.53 367.50,445.60 C371.67,447.67 375.42,449.25 380.00,450.50 C384.58,451.75 390.83,452.47 395.00,453.10 C399.17,453.73 402.08,454.15 405.00,454.30 C407.92,454.45 410.00,454.30 412.50,454.00 C415.00,453.70 417.42,453.27 420.00,452.50 C422.58,451.73 425.08,450.57 428.00,449.40 C430.92,448.23 434.25,446.77 437.50,445.50 C440.75,444.23 441.67,443.21 447.50,441.75 C453.33,440.29 464.17,438.73 472.50,436.75 C480.83,434.77 489.17,432.61 497.50,429.90 C505.83,427.19 515.75,423.00 522.50,420.50 C529.25,418.00 532.08,416.98 538.00,414.90 C543.92,412.82 551.52,410.15 558.00,408.00 C564.48,405.85 571.57,405.17 576.90,402.00 C582.23,398.83 585.32,393.95 590.00,389.00 C594.68,384.05 600.50,377.30 605.00,372.30 C609.50,367.30 612.83,363.33 617.00,359.00 C621.17,354.67 626.50,349.80 630.00,346.30 C633.50,342.80 635.25,340.55 638.00,338.00 C640.75,335.45 643.67,332.67 646.50,331.00 C649.33,329.33 652.33,328.83 655.00,328.00 C657.67,327.17 660.00,326.82 662.50,326.00 C665.00,325.18 666.52,324.40 670.00,323.10 C673.48,321.80 678.19,320.28 683.40,318.20 C688.61,316.12 695.15,312.70 701.25,310.60 C707.35,308.50 714.79,307.05 720.00,305.60 C725.21,304.15 728.33,303.35 732.50,301.90 C736.67,300.45 740.83,299.30 745.00,296.90 C749.17,294.50 753.33,290.65 757.50,287.50 C761.67,284.35 765.83,280.92 770.00,278.00 C774.17,275.08 779.17,271.96 782.50,270.00 C785.83,268.04 787.50,267.50 790.00,266.25 C792.50,265.00 794.79,263.29 797.50,262.50 C800.21,261.71 803.33,261.42 806.25,261.50 C809.17,261.58 812.08,262.10 815.00,263.00 C817.92,263.90 820.62,264.69 823.75,266.90 C826.88,269.11 830.00,273.55 833.75,276.25 C837.50,278.95 841.88,281.12 846.25,283.10 C850.62,285.08 854.79,286.91 860.00,288.10 C865.21,289.29 872.92,290.14 877.50,290.25 C882.08,290.36 882.71,289.94 887.50,288.75 C892.29,287.56 901.17,285.29 906.25,283.10 C911.33,280.91 914.29,278.05 918.00,275.60 C921.71,273.15 926.75,269.60 928.50,268.40" fill="none" stroke="#cd4860" stroke-width="1.6" stroke-linejoin="round" stroke-linecap="round"/>
<path d="M7.75,122.50 C8.33,126.25 9.83,138.50 11.25,145.00 C12.67,151.50 14.58,158.67 16.25,161.50 C17.92,164.33 19.38,161.62 21.25,162.00 C23.12,162.38 25.42,163.25 27.50,163.75 C29.58,164.25 31.67,165.71 33.75,165.00 C35.83,164.29 38.12,160.83 40.00,159.50 C41.88,158.17 42.92,157.33 45.00,157.00 C47.08,156.67 50.00,157.33 52.50,157.50 C55.00,157.67 57.71,157.38 60.00,158.00 C62.29,158.62 64.17,159.46 66.25,161.25 C68.33,163.04 70.21,164.79 72.50,168.75 C74.79,172.71 77.50,178.75 80.00,185.00 C82.50,191.25 85.00,200.42 87.50,206.25 C90.00,212.08 92.50,215.83 95.00,220.00 C97.50,224.17 100.00,226.88 102.50,231.25 C105.00,235.62 107.67,241.38 110.00,246.25 C112.33,251.12 114.33,256.38 116.50,260.50 C118.67,264.62 120.75,267.33 123.00,271.00 C125.25,274.67 126.75,276.83 130.00,282.50 C133.25,288.17 138.33,298.54 142.50,305.00 C146.67,311.46 150.83,315.42 155.00,321.25 C159.17,327.08 163.33,333.75 167.50,340.00 C171.67,346.25 175.62,352.70 180.00,358.75 C184.38,364.80 189.58,371.62 193.75,376.30 C197.92,380.98 201.62,383.43 205.00,386.80 C208.38,390.17 211.08,392.30 214.00,396.50 C216.92,400.70 219.83,407.25 222.50,412.00 C225.17,416.75 227.50,421.17 230.00,425.00 C232.50,428.83 234.17,431.46 237.50,435.00 C240.83,438.54 245.83,443.33 250.00,446.25 C254.17,449.17 258.75,451.17 262.50,452.50 C266.25,453.83 267.50,453.96 272.50,454.25 C277.50,454.54 287.50,453.79 292.50,454.25 C297.50,454.71 299.33,456.14 302.50,457.00 C305.67,457.86 307.75,459.25 311.50,459.40 C315.25,459.55 318.58,458.55 325.00,457.90 C331.42,457.25 341.67,456.33 350.00,455.50 C358.33,454.67 368.33,453.61 375.00,452.90 C381.67,452.19 385.00,451.73 390.00,451.25 C395.00,450.77 400.83,450.00 405.00,450.00 C409.17,450.00 412.42,451.42 415.00,451.25 C417.58,451.08 418.21,450.79 420.50,449.00 C422.79,447.21 425.29,443.58 428.75,440.50 C432.21,437.42 437.08,433.52 441.25,430.50 C445.42,427.48 449.58,424.58 453.75,422.40 C457.92,420.22 462.71,418.87 466.25,417.40 C469.79,415.93 471.88,415.68 475.00,413.60 C478.12,411.52 481.25,407.92 485.00,404.90 C488.75,401.88 493.33,398.83 497.50,395.50 C501.67,392.17 507.29,386.77 510.00,384.90 C512.71,383.02 511.67,383.94 513.75,384.25 C515.83,384.56 518.46,385.99 522.50,386.75 C526.54,387.51 533.88,388.68 538.00,388.80 C542.12,388.93 543.58,388.30 547.25,387.50 C550.92,386.70 556.00,385.35 560.00,384.00 C564.00,382.65 568.25,380.52 571.25,379.40 C574.25,378.27 575.71,379.15 578.00,377.25 C580.29,375.35 581.96,372.12 585.00,368.00 C588.04,363.88 592.92,359.33 596.25,352.50 C599.58,345.67 602.29,333.75 605.00,327.00 C607.71,320.25 609.79,317.00 612.50,312.00 C615.21,307.00 618.33,302.33 621.25,297.00 C624.17,291.67 625.62,286.38 630.00,280.00 C634.38,273.62 642.50,264.48 647.50,258.75 C652.50,253.02 656.75,248.47 660.00,245.60 C663.25,242.72 664.67,242.83 667.00,241.50 C669.33,240.17 671.21,237.43 674.00,237.60 C676.79,237.77 680.67,240.10 683.75,242.50 C686.83,244.90 690.29,248.92 692.50,252.00 C694.71,255.08 695.54,258.00 697.00,261.00 C698.46,264.00 698.88,266.52 701.25,270.00 C703.62,273.48 707.50,278.36 711.25,281.90 C715.00,285.44 720.42,288.33 723.75,291.25 C727.08,294.17 728.33,296.86 731.25,299.40 C734.17,301.94 738.12,305.36 741.25,306.50 C744.38,307.64 747.50,307.23 750.00,306.25 C752.50,305.27 754.17,303.31 756.25,300.60 C758.33,297.89 760.42,292.81 762.50,290.00 C764.58,287.19 766.88,284.90 768.75,283.75 C770.62,282.60 771.46,284.46 773.75,283.10 C776.04,281.74 779.48,277.78 782.50,275.60 C785.52,273.42 789.19,271.67 791.90,270.00 C794.61,268.33 796.36,266.48 798.75,265.60 C801.14,264.73 802.08,264.85 806.25,264.75 C810.42,264.65 818.75,264.54 823.75,265.00 C828.75,265.46 832.50,265.73 836.25,267.50 C840.00,269.27 842.92,272.37 846.25,275.60 C849.58,278.83 853.12,283.15 856.25,286.90 C859.38,290.65 862.29,295.88 865.00,298.10 C867.71,300.33 869.58,299.42 872.50,300.25 C875.42,301.08 879.38,302.93 882.50,303.10 C885.62,303.27 888.33,303.02 891.25,301.25 C894.17,299.48 896.88,296.04 900.00,292.50 C903.12,288.96 907.00,284.07 910.00,280.00 C913.00,275.93 914.92,272.85 918.00,268.10 C921.08,263.35 926.75,254.27 928.50,251.50" fill="none" stroke="#3b5bc8" stroke-width="1.6" stroke-linejoin="round" stroke-linecap="round"/>
</g>
<text x="196.20" y="309.50" font-size="11.2" fill="#cf4a5e" stroke="#cf4a5e" stroke-width="0.15" textLength="61.25" lengthAdjust="spacingAndGlyphs">50-day SMA</text>
<text x="193.70" y="370.60" font-size="11.2" fill="#4368cf" stroke="#4368cf" stroke-width="0.15" textLength="61.25" lengthAdjust="spacingAndGlyphs">21-day SMA</text>
<text x="982.50" y="30.30" font-size="11" fill="#171a24" stroke="#171a24" stroke-width="0.3" textLength="27.00" lengthAdjust="spacingAndGlyphs">800.00</text>
<text x="982.50" y="55.38" font-size="11" fill="#171a24" stroke="#171a24" stroke-width="0.3" textLength="27.00" lengthAdjust="spacingAndGlyphs">760.00</text>
<text x="982.50" y="80.47" font-size="11" fill="#171a24" stroke="#171a24" stroke-width="0.3" textLength="27.00" lengthAdjust="spacingAndGlyphs">720.00</text>
<text x="982.50" y="105.55" font-size="11" fill="#171a24" stroke="#171a24" stroke-width="0.3" textLength="27.00" lengthAdjust="spacingAndGlyphs">680.00</text>
<text x="982.50" y="130.64" font-size="11" fill="#171a24" stroke="#171a24" stroke-width="0.3" textLength="27.00" lengthAdjust="spacingAndGlyphs">640.00</text>
<text x="982.50" y="155.72" font-size="11" fill="#171a24" stroke="#171a24" stroke-width="0.3" textLength="27.00" lengthAdjust="spacingAndGlyphs">600.00</text>
<text x="982.50" y="180.80" font-size="11" fill="#171a24" stroke="#171a24" stroke-width="0.3" textLength="27.00" lengthAdjust="spacingAndGlyphs">560.00</text>
<text x="982.50" y="205.89" font-size="11" fill="#171a24" stroke="#171a24" stroke-width="0.3" textLength="27.00" lengthAdjust="spacingAndGlyphs">520.00</text>
<text x="982.50" y="230.97" font-size="11" fill="#171a24" stroke="#171a24" stroke-width="0.3" textLength="27.00" lengthAdjust="spacingAndGlyphs">480.00</text>
<text x="982.50" y="256.06" font-size="11" fill="#171a24" stroke="#171a24" stroke-width="0.3" textLength="27.00" lengthAdjust="spacingAndGlyphs">440.00</text>
<text x="982.50" y="281.14" font-size="11" fill="#171a24" stroke="#171a24" stroke-width="0.3" textLength="27.00" lengthAdjust="spacingAndGlyphs">400.00</text>
<text x="982.50" y="306.22" font-size="11" fill="#171a24" stroke="#171a24" stroke-width="0.3" textLength="27.00" lengthAdjust="spacingAndGlyphs">360.00</text>
<text x="982.50" y="331.31" font-size="11" fill="#171a24" stroke="#171a24" stroke-width="0.3" textLength="27.00" lengthAdjust="spacingAndGlyphs">320.00</text>
<text x="982.50" y="356.39" font-size="11" fill="#171a24" stroke="#171a24" stroke-width="0.3" textLength="27.00" lengthAdjust="spacingAndGlyphs">280.00</text>
<text x="982.50" y="381.48" font-size="11" fill="#171a24" stroke="#171a24" stroke-width="0.3" textLength="27.00" lengthAdjust="spacingAndGlyphs">240.00</text>
<text x="982.50" y="406.56" font-size="11" fill="#171a24" stroke="#171a24" stroke-width="0.3" textLength="27.00" lengthAdjust="spacingAndGlyphs">200.00</text>
<text x="982.50" y="431.64" font-size="11" fill="#171a24" stroke="#171a24" stroke-width="0.3" textLength="27.00" lengthAdjust="spacingAndGlyphs">160.00</text>
<text x="982.50" y="456.73" font-size="11" fill="#171a24" stroke="#171a24" stroke-width="0.3" textLength="27.00" lengthAdjust="spacingAndGlyphs">120.00</text>
<text x="982.50" y="481.81" font-size="11" fill="#171a24" stroke="#171a24" stroke-width="0.3" textLength="22.40" lengthAdjust="spacingAndGlyphs">80.00</text>
<text x="982.50" y="506.90" font-size="11" fill="#171a24" stroke="#171a24" stroke-width="0.3" textLength="22.40" lengthAdjust="spacingAndGlyphs">40.00</text>
<rect x="976" y="150.4" width="37.6" height="23.6" rx="0.8" fill="#0f967d"/>
<text x="982.50" y="160.90" font-size="11" fill="#fff" stroke="#fff" stroke-width="0.4" textLength="27.00" lengthAdjust="spacingAndGlyphs">594.05</text>
<text x="982.50" y="171.20" font-size="11" fill="#d5efe9" stroke="#d5efe9" stroke-width="0.1" textLength="26.50" lengthAdjust="spacingAndGlyphs">2d 22h</text>
<rect x="976" y="246.8" width="37.5" height="11.4" fill="#2d5ff5"/>
<text x="982.50" y="256.30" font-size="11" fill="#fff" stroke="#fff" stroke-width="0.4" textLength="27.00" lengthAdjust="spacingAndGlyphs">441.53</text>
<rect x="976" y="263.3" width="37.5" height="11.4" fill="#ee3548"/>
<text x="982.50" y="272.80" font-size="11" fill="#fff" stroke="#fff" stroke-width="0.4" textLength="27.00" lengthAdjust="spacingAndGlyphs">414.65</text>
<text x="65.00" y="528.10" font-size="11" fill="#171a24" stroke="#171a24" stroke-width="0.3" textLength="20.00" lengthAdjust="spacingAndGlyphs">2022</text>
<text x="187.65" y="528.10" font-size="11" fill="#171a24" stroke="#171a24" stroke-width="0.3" textLength="11.30" lengthAdjust="spacingAndGlyphs">Jul</text>
<text x="301.00" y="528.10" font-size="11" fill="#171a24" stroke="#171a24" stroke-width="0.3" textLength="20.00" lengthAdjust="spacingAndGlyphs">2023</text>
<text x="423.35" y="528.10" font-size="11" fill="#171a24" stroke="#171a24" stroke-width="0.3" textLength="11.30" lengthAdjust="spacingAndGlyphs">Jul</text>
<text x="537.00" y="528.10" font-size="11" fill="#171a24" stroke="#171a24" stroke-width="0.3" textLength="20.00" lengthAdjust="spacingAndGlyphs">2024</text>
<text x="659.15" y="528.10" font-size="11" fill="#171a24" stroke="#171a24" stroke-width="0.3" textLength="11.30" lengthAdjust="spacingAndGlyphs">Jul</text>
<text x="777.00" y="528.10" font-size="11" fill="#171a24" stroke="#171a24" stroke-width="0.3" textLength="20.00" lengthAdjust="spacingAndGlyphs">2025</text>
<text x="899.85" y="528.10" font-size="11" fill="#171a24" stroke="#171a24" stroke-width="0.3" textLength="11.30" lengthAdjust="spacingAndGlyphs">Jul</text>
<text x="7.50" y="14.45" font-size="10" fill="#171a24" stroke="#171a24" stroke-width="0.22" textLength="281.20" lengthAdjust="spacingAndGlyphs">edithchuama created with TradingView.com, Aug 15, 2025 02:03 UTC</text>
<text x="13.30" y="34.50" font-size="9.85" fill="#171a24" stroke="#171a24" stroke-width="0.22" textLength="173.20" lengthAdjust="spacingAndGlyphs">Bitcoin Cash / U.S. Dollar · 1W · COINBASE</text>
<text x="193.00" y="34.50" font-size="9.85" fill="#0f967d" stroke="#0f967d" stroke-width="0.22" textLength="32.75" lengthAdjust="spacingAndGlyphs"><tspan fill="#171a24" stroke="#171a24">O</tspan>570.30</text>
<text x="231.75" y="34.50" font-size="9.85" fill="#0f967d" stroke="#0f967d" stroke-width="0.22" textLength="32.50" lengthAdjust="spacingAndGlyphs"><tspan fill="#171a24" stroke="#171a24">H</tspan>632.64</text>
<text x="270.00" y="34.50" font-size="9.85" fill="#0f967d" stroke="#0f967d" stroke-width="0.22" textLength="31.25" lengthAdjust="spacingAndGlyphs"><tspan fill="#171a24" stroke="#171a24">L</tspan>569.70</text>
<text x="307.00" y="34.50" font-size="9.85" fill="#0f967d" stroke="#0f967d" stroke-width="0.22" textLength="31.75" lengthAdjust="spacingAndGlyphs"><tspan fill="#171a24" stroke="#171a24">C</tspan>594.05</text>
<text x="345.00" y="34.50" font-size="9.85" fill="#0f967d" stroke="#0f967d" stroke-width="0.22" textLength="63.75" lengthAdjust="spacingAndGlyphs">+23.54 (+4.13%)</text>
<text x="13.30" y="47.60" font-size="9.85" fill="#171a24" stroke="#171a24" stroke-width="0.22" textLength="61.90" lengthAdjust="spacingAndGlyphs">SMA (21, close)</text>
<text x="81.00" y="47.60" font-size="9.85" fill="#3d62d6" stroke="#3d62d6" stroke-width="0.22" textLength="26.40" lengthAdjust="spacingAndGlyphs">441.53</text>
<text x="13.30" y="60.10" font-size="9.85" fill="#171a24" stroke="#171a24" stroke-width="0.22" textLength="61.90" lengthAdjust="spacingAndGlyphs">SMA (50, close)</text>
<text x="81.00" y="60.10" font-size="9.85" fill="#d84453" stroke="#d84453" stroke-width="0.22" textLength="26.40" lengthAdjust="spacingAndGlyphs">414.65</text>
<g>
<circle cx="928.1" cy="486" r="7.1" fill="#fff" stroke="#9b3fc0" stroke-width="1.1"/>
<path d="M929.7,481.5 L925.1,486.7 L927.8,486.7 L926.5,490.5 L931.1,485.2 L928.4,485.2 Z" fill="#9b3fc0"/>
<circle cx="933.4" cy="504.3" r="7.1" fill="#fbe6e8" stroke="#e05262" stroke-width="1"/>
<circle cx="931.5" cy="504.3" r="7.1" fill="#fdf1f2" stroke="#e05262" stroke-width="1"/>
<rect x="934.5" y="503.2" width="3.6" height="2.4" fill="#e5525f"/>
<clipPath id="flag"><circle cx="927.2" cy="504.3" r="5.7"/></clipPath>
<circle cx="927.2" cy="504.3" r="7.1" fill="#fff" stroke="#e05262" stroke-width="1.1"/>
<g clip-path="url(#flag)">
<rect x="920" y="503.2" width="16" height="2.4" fill="#e5525f"/>
<rect x="920" y="508" width="16" height="2" fill="#e5525f"/>
<rect x="920" y="499" width="10.1" height="6.9" fill="#4a86e4"/>
<g fill="#9cc4f5"><circle cx="923.6" cy="500.8" r=".45"/><circle cx="925.6" cy="500.8" r=".45"/><circle cx="927.6" cy="500.8" r=".45"/><circle cx="922.8" cy="502.6" r=".45"/><circle cx="924.8" cy="502.6" r=".45"/><circle cx="926.8" cy="502.6" r=".45"/><circle cx="928.8" cy="502.6" r=".45"/><circle cx="923.6" cy="504.4" r=".45"/><circle cx="925.6" cy="504.4" r=".45"/><circle cx="927.6" cy="504.4" r=".45"/></g>
</g>
</g>
<g fill="#15171c">
<path d="M8.9,552.3 H18 V563 H13.4 V557 H8.9 Z"/>
<circle cx="21.4" cy="554.5" r="2.2"/>
<path d="M25.6,552.3 H31.3 L26.8,563 H21.2 Z"/>
<text x="35.8" y="563" font-size="14.6" font-weight="700" textLength="92" lengthAdjust="spacingAndGlyphs">TradingView</text>
</g>
</svg></body></html>
